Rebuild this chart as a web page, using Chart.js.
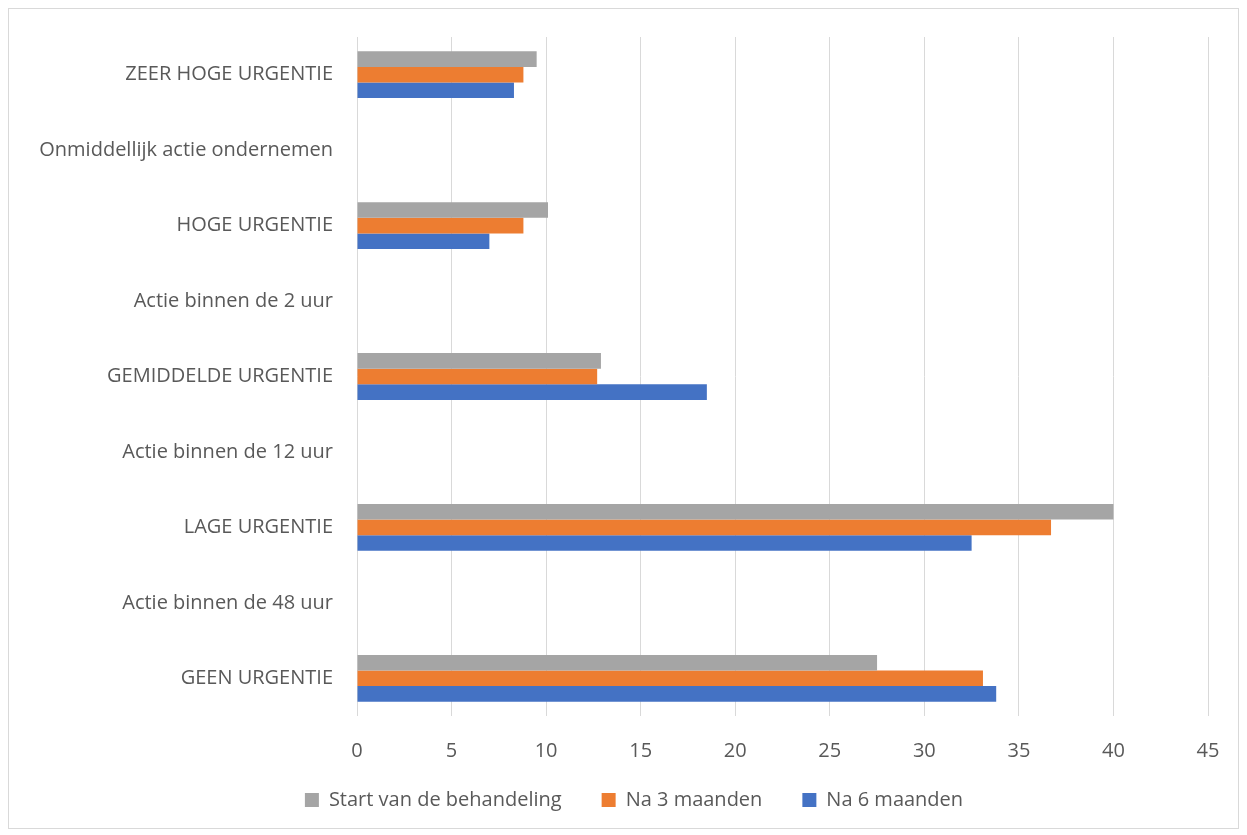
<!DOCTYPE html>
<html>
<head>
<meta charset="utf-8">
<script src="https://cdn.jsdelivr.net/npm/chart.js@4"></script>
<style>
  html, body { margin: 0; padding: 0; background: #fff; }
  #wrap { position: relative; width: 1247px; height: 835px; }
  #frame { position: absolute; left: 8px; top: 8px; width: 1229px; height: 819px; border: 1px solid #d9d9d9; pointer-events: none; }
</style>
</head>
<body>
<div id="wrap">
  <canvas id="chart" width="1247" height="835"></canvas>
  <div id="frame"></div>
</div>
<script>
const categories = [
  'ZEER HOGE URGENTIE',
  'Onmiddellijk actie ondernemen',
  'HOGE URGENTIE',
  'Actie binnen de 2 uur',
  'GEMIDDELDE URGENTIE',
  'Actie binnen de 12 uur',
  'LAGE URGENTIE',
  'Actie binnen de 48 uur',
  'GEEN URGENTIE'
];
const startValues = [9.5, null, 10.1, null, 12.9, null, 40.0, null, 27.5];
const na3Values = [8.8, null, 8.8, null, 12.7, null, 36.7, null, 33.1];
const na6Values = [8.3, null, 7.0, null, 18.5, null, 32.5, null, 33.8];
const seriesNames = ['Start van de behandeling', 'Na 3 maanden', 'Na 6 maanden'];
const xMax = 45;
const xStep = 5;

const textColor = '#595959';
const font = { family: '"Open Sans", sans-serif', size: 20 };

// move the legend box a bit so its row sits where the original one does
const legendShift = {
  id: 'legendShift',
  afterLayout(chart) {
    const lg = chart.legend;
    const h = lg.bottom - lg.top;
    lg.left = 60;
    lg.top = 750;
    lg.bottom = 750 + h;
  }
};

new Chart(document.getElementById('chart').getContext('2d'), {
  type: 'bar',
  data: {
    labels: categories,
    datasets: [
      { label: seriesNames[0], data: startValues, backgroundColor: '#a5a5a5' },
      { label: seriesNames[1], data: na3Values, backgroundColor: '#ed7d31' },
      { label: seriesNames[2], data: na6Values, backgroundColor: '#4472c4' }
    ]
  },
  options: {
    indexAxis: 'y',
    responsive: false,
    animation: false,
    datasets: { bar: { categoryPercentage: 0.62, barPercentage: 1 } },
    layout: { padding: { top: 37, right: 39, left: 0, bottom: 0 } },
    scales: {
      x: {
        min: 0,
        max: xMax,
        ticks: { stepSize: xStep, color: textColor, font, padding: 23 },
        grid: { color: '#d9d9d9', lineWidth: 1, drawTicks: false },
        border: { display: false },
        afterFit: (scale) => { scale.height = 49; }
      },
      y: {
        ticks: { color: textColor, font, padding: 24, autoSkip: false },
        grid: { display: false, drawTicks: false },
        border: { display: false },
        afterFit: (scale) => { scale.width = 357; }
      }
    },
    plugins: {
      legend: {
        position: 'bottom',
        labels: { color: textColor, font, boxWidth: 14, boxHeight: 14, padding: 40 }
      },
      tooltip: { enabled: false }
    }
  },
  plugins: [legendShift]
});
</script>
</body>
</html>
